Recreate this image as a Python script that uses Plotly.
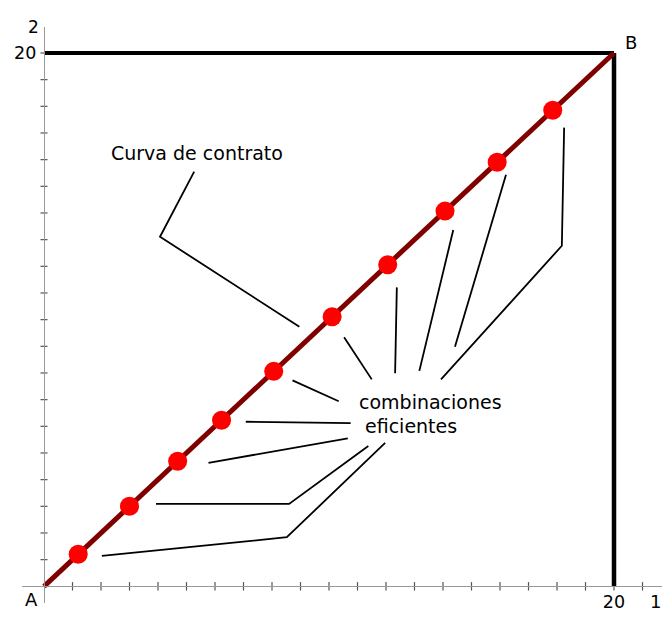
import plotly.graph_objects as go

# ---- data (in box units) ----
box_size = 20
dots_x = [1.2, 3.0, 4.69, 6.23, 8.06, 10.11, 12.06, 14.07, 15.9, 17.85]
dots_y = [1.2, 3.0, 4.69, 6.23, 8.06, 10.11, 12.06, 14.07, 15.9, 17.85]
contract_x = [0, 20]
contract_y = [0, 20]
x_ticks = list(range(1, 22))
y_ticks = list(range(1, 21))

# leader lines (data units)
curva_leader_x = [5.27, 4.07, 8.96]
curva_leader_y = [15.55, 13.11, 9.73]
eff_leaders = [
    ([10.53, 11.50], [9.34, 7.76]),
    ([12.38, 12.32], [11.21, 7.99]),
    ([14.36, 13.17], [13.36, 8.08]),
    ([16.21, 14.42], [15.43, 8.98]),
    ([18.25, 18.17, 13.93], [17.20, 12.77, 7.76]),
    ([8.72, 10.34], [7.72, 6.94]),
    ([7.08, 10.76], [6.17, 6.12]),
    ([5.77, 10.66], [4.63, 5.55]),
    ([3.93, 8.60, 11.38], [3.09, 3.09, 5.26]),
    ([2.03, 8.52, 11.97], [1.14, 1.84, 5.38]),
]

x_range = [-0.772, 21.684]
y_range = [-0.626, 20.974]

FONT = "DejaVu Sans"
fig = go.Figure()

# axis crossing ticks
fig.add_trace(go.Scatter(x=x_ticks, y=[0] * len(x_ticks), mode="markers",
                         marker=dict(symbol="line-ns", size=6,
                                     line=dict(color="#555555", width=1.2)),
                         hoverinfo="skip", showlegend=False))
fig.add_trace(go.Scatter(x=[0] * len(y_ticks), y=y_ticks, mode="markers",
                         marker=dict(symbol="line-ew", size=5,
                                     line=dict(color="#555555", width=1.2)),
                         hoverinfo="skip", showlegend=False))

# box edges
fig.add_trace(go.Scatter(x=[0, box_size], y=[box_size, box_size], mode="lines",
                         line=dict(color="black", width=4), showlegend=False))
fig.add_trace(go.Scatter(x=[box_size, box_size], y=[0, box_size], mode="lines",
                         line=dict(color="black", width=4.5), showlegend=False))

# leader lines
fig.add_trace(go.Scatter(x=curva_leader_x, y=curva_leader_y, mode="lines",
                         line=dict(color="black", width=1.8), showlegend=False))
for lx, ly in eff_leaders:
    fig.add_trace(go.Scatter(x=lx, y=ly, mode="lines",
                             line=dict(color="black", width=1.8), showlegend=False))

# contract curve
fig.add_trace(go.Scatter(x=contract_x, y=contract_y, mode="lines",
                         line=dict(color="#800000", width=5), showlegend=False))
fig.add_trace(go.Scatter(x=dots_x, y=dots_y, mode="markers",
                         marker=dict(color="#ff0000", size=19), showlegend=False))

def ann(text, x, y, size=18, xanchor="center", yref="y"):
    fig.add_annotation(x=x, y=y, text=text, showarrow=False, xanchor=xanchor,
                       yanchor="middle", yref=yref,
                       font=dict(family=FONT, size=size, color="black"))

ann("Curva de contrato", 5.36, 16.26, size=19)
ann("combinaciones", 10.97, 6.905, size=19, xanchor="left")
ann("eficientes", 11.18, 6.02, size=19, xanchor="left")
ann("A", -0.435, -0.48, size=18)
ann("B", 20.585, 20.38, size=18)
ann("1", 21.44, -0.56, size=18)
ann("2", -0.36, 1.0, size=17, yref="paper")

# page body has an 8px margin, so the figure is 8px smaller than the window
fig.update_layout(
    width=664, height=613,
    margin=dict(l=14, r=10, t=19, b=18, autoexpand=False),
    paper_bgcolor="white", plot_bgcolor="white",
    font=dict(family=FONT, size=17.5, color="black"),
    xaxis=dict(range=x_range, anchor="free", position=0.02898, automargin=False,
               showline=True, linecolor="#999999", linewidth=1.3,
               showgrid=False, zeroline=False, ticks="",
               tickvals=[20], ticktext=["20"],
               tickfont=dict(family=FONT, size=17.5, color="black")),
    yaxis=dict(range=y_range, anchor="free", position=0.03438, automargin=False,
               showline=True, linecolor="#999999", linewidth=1.3,
               showgrid=False, zeroline=False, ticks="",
               tickvals=[20], ticktext=["20"], ticklabelstandoff=4,
               tickfont=dict(family=FONT, size=17.5, color="black")),
    showlegend=False,
)

fig.write_html("out.html")
